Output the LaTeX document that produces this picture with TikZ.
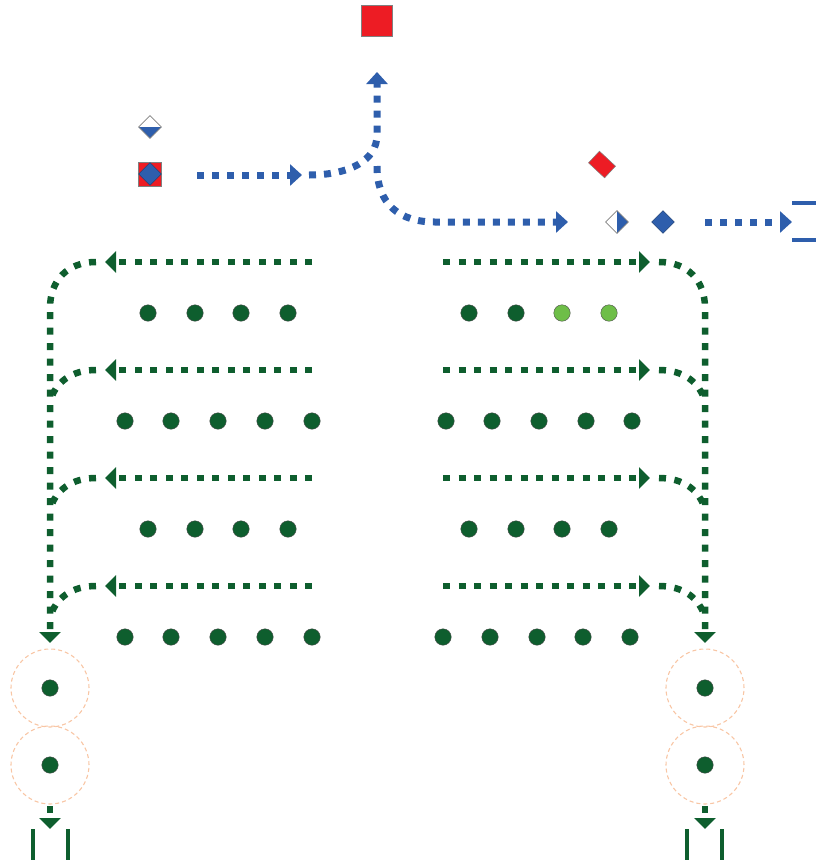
\documentclass[tikz,border=0pt]{standalone}
\usetikzlibrary{arrows.meta,shapes.geometric}
\definecolor{gdark}{RGB}{14,94,46}
\definecolor{glight}{RGB}{110,190,72}
\definecolor{bblue}{RGB}{46,94,172}
\definecolor{rred}{RGB}{237,28,36}
\definecolor{peach}{RGB}{248,198,165}
\begin{document}
\begin{tikzpicture}[x=1pt,y=-1pt,
  gflow/.style={draw=gdark,line width=6.5pt,dash pattern=on 7pt off 8.5pt},
  gtip/.style={-{Triangle[width=21pt,length=11pt]}},
  bflow/.style={draw=bblue,line width=7pt,dash pattern=on 7pt off 8pt},
  btip/.style={-{Triangle[width=21pt,length=12pt]}},
  gbar/.style={draw=gdark,line width=4pt},
  bbar/.style={draw=bblue,line width=4pt},
  gdot/.style={circle,fill=gdark,draw=gray!60!black,line width=0.4pt,minimum size=16.5pt,inner sep=0pt},
  ldot/.style={gdot,fill=glight},
  ring/.style={circle,draw=peach,line width=1.1pt,dash pattern=on 4pt off 3pt,minimum size=78pt,inner sep=0pt},
  dmd/.style={diamond,aspect=1,inner sep=0pt,minimum size=23pt,draw=gray,line width=0.6pt},
]
\useasboundingbox (0,0) rectangle (816,860);

% ---------- blue part ----------
\node[rectangle,fill=rred,draw=gray,line width=0.6pt,minimum size=31pt,inner sep=0pt] (dest) at (377,21) {};
\node[dmd,fill=white,path picture={\fill[bblue] (path picture bounding box.west) -- (path picture bounding box.east) -- (path picture bounding box.south) -- cycle;}] (hdiamL) at (150,127) {};
\node[rectangle,fill=rred,draw=gray,line width=0.6pt,minimum width=23pt,minimum height=24pt,inner sep=0pt] (sq) at (150,174) {};
\node[diamond,aspect=1,inner sep=0pt,minimum size=23pt,fill=bblue,draw=bblue!60!black,line width=0.4pt] (sqd) at (150,174) {};
\node[rectangle,minimum width=22pt,minimum height=16pt,inner sep=0pt,rotate=-43,fill=rred,draw=gray,line width=0.5pt] (rdiam) at (602,164.5) {};
\node[dmd,fill=white,path picture={\fill[bblue] (path picture bounding box.north) -- (path picture bounding box.east) -- (path picture bounding box.south) -- cycle;}] (hdiamR) at (617,222) {};
\node[diamond,aspect=1,inner sep=0pt,minimum size=23pt,fill=bblue,draw=bblue!60!black,line width=0.4pt] (bdiam) at (663,222) {};

\coordinate (b1) at (197,175);
\coordinate (b2) at (302,175);
\coordinate (b3) at (309,175);
\coordinate (b4) at (377,135);
\coordinate (b5) at (377,72);
\coordinate (b6) at (377,166);
\coordinate (b7) at (435,222);
\coordinate (b8) at (568,222);
\coordinate (b9) at (705,222);
\coordinate (b10) at (792,222);
\draw[bflow,btip] (b1) -- (b2);
\draw[bflow,btip] (b3) .. controls (350,175) and (377,160) .. (b4) -- (b5);
\draw[bflow,btip] (b6) .. controls (377,205) and (400,222) .. (b7) -- (b8);
\draw[bflow,btip] (b9) -- (b10);
\coordinate (e1) at (792,203); \coordinate (e2) at (816,203);
\coordinate (e3) at (792,240); \coordinate (e4) at (816,240);
\draw[bbar] (e1) -- (e2);
\draw[bbar] (e3) -- (e4);

% ---------- green rows ----------
\foreach \y [count=\i] in {262,370,478,586} {
  \coordinate (Ls\i) at (312,\y);
  \coordinate (Lt\i) at (105,\y);
  \coordinate (Rs\i) at (443,\y);
  \coordinate (Rt\i) at (650,\y);
  \draw[gflow,gtip] (Ls\i) -- (Lt\i);
  \draw[gflow,gtip] (Rs\i) -- (Rt\i);
}
\foreach \y [count=\i from 2] in {370,478,586} {
  \coordinate (Lc\i) at (96,\y);
  \coordinate (Lj\i) at (50,\y+32);
  \coordinate (Rc\i) at (659,\y);
  \coordinate (Rj\i) at (705,\y+32);
  \draw[gflow] (Lc\i) .. controls (72,\y) and (55,\y+12) .. (Lj\i);
  \draw[gflow] (Rc\i) .. controls (683,\y) and (700,\y+12) .. (Rj\i);
}
\coordinate (Lc1) at (96,262); \coordinate (Lv) at (50,308); \coordinate (Lend) at (50,643);
\coordinate (Rc1) at (659,262); \coordinate (Rv) at (705,308); \coordinate (Rend) at (705,643);
\draw[gflow,gtip] (Lc1) .. controls (68,262) and (50,280) .. (Lv) -- (Lend);
\draw[gflow,gtip] (Rc1) .. controls (687,262) and (705,280) .. (Rv) -- (Rend);

% dots
\foreach \x in {148,195,241,288} {
  \node[gdot] (a\x) at (\x,313) {};
  \node[gdot] (c\x) at (\x,529) {};
}
\foreach \x in {469,516} \node[gdot] (a\x) at (\x,313) {};
\foreach \x in {562,609} \node[ldot] (a\x) at (\x,313) {};
\foreach \x in {469,516,562,609} \node[gdot] (c\x) at (\x,529) {};
\foreach \x in {125,171,218,265,312} {
  \node[gdot] (bl\x) at (\x,421) {};
  \node[gdot] (dl\x) at (\x,637) {};
}
\foreach \x in {446,492,539,586,632} \node[gdot] (br\x) at (\x,421) {};
\foreach \x in {443,490,537,583,630} \node[gdot] (dr\x) at (\x,637) {};

% exits
\foreach \xx/\s in {50/L,705/R} {
  \node[ring] (r1\s) at (\xx,688) {};
  \node[ring] (r2\s) at (\xx,765) {};
  \node[gdot] (p1\s) at (\xx,688) {};
  \node[gdot] (p2\s) at (\xx,765) {};
  \coordinate (x1\s) at (\xx,806);
  \coordinate (x2\s) at (\xx,829);
  \draw[gflow,gtip] (x1\s) -- (x2\s);
}
\coordinate (k1) at (33,829); \coordinate (k2) at (33,860);
\coordinate (k3) at (68,829); \coordinate (k4) at (68,860);
\coordinate (k5) at (687,829); \coordinate (k6) at (687,860);
\coordinate (k7) at (722,829); \coordinate (k8) at (722,860);
\draw[gbar] (k1) -- (k2);
\draw[gbar] (k3) -- (k4);
\draw[gbar] (k5) -- (k6);
\draw[gbar] (k7) -- (k8);
\end{tikzpicture}
\end{document}
